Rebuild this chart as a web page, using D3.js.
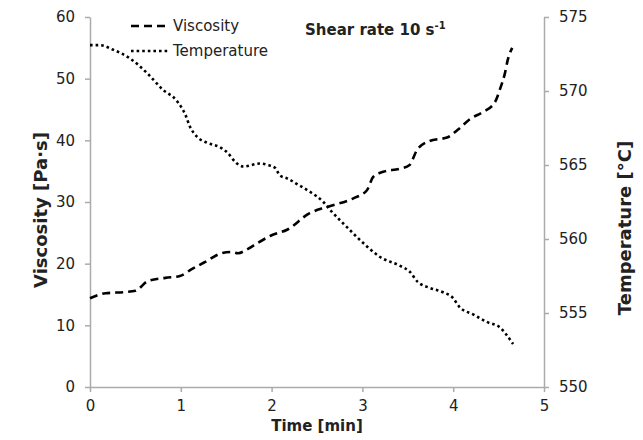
<!DOCTYPE html>
<html>
<head>
<meta charset="utf-8">
<script src="https://cdn.jsdelivr.net/npm/d3@7"></script>
<style>
  html, body { margin: 0; padding: 0; background: #fff; }
  svg { display: block; font-family: "DejaVu Sans", Verdana, sans-serif; }
</style>
</head>
<body>
<svg id="chart" width="643" height="440"></svg>
<script>
// Time axis [min]
const timeTicks = [0, 1, 2, 3, 4, 5];
const viscTicks = [0, 10, 20, 30, 40, 50, 60];
const tempTicks = [550, 555, 560, 565, 570, 575];

// Viscosity measurement [Pa·s]
const viscTime = [0, 0.17, 0.39, 0.50, 0.64, 0.83, 0.99, 1.12, 1.27, 1.45, 1.56, 1.63, 1.74, 1.85, 2.00, 2.17, 2.42, 2.61, 2.90, 3.05, 3.12, 3.23, 3.41, 3.52, 3.60, 3.74, 3.94, 4.05, 4.19, 4.33, 4.46, 4.52, 4.57, 4.60, 4.65];
const viscosity = [14.4, 15.2, 15.4, 15.6, 17.2, 17.7, 18.0, 19.1, 20.3, 21.7, 21.9, 21.7, 22.4, 23.4, 24.6, 25.5, 28.2, 29.2, 30.6, 31.9, 34.1, 34.9, 35.4, 36.0, 38.4, 39.9, 40.5, 41.7, 43.5, 44.6, 46.2, 48.5, 50.9, 53.0, 55.0];

// Melt temperature [°C]
const tempTime = [0, 0.11, 0.25, 0.44, 0.63, 0.80, 0.96, 1.05, 1.10, 1.18, 1.29, 1.43, 1.52, 1.60, 1.69, 1.87, 1.96, 2.04, 2.09, 2.17, 2.31, 2.42, 2.57, 2.64, 2.83, 3.05, 3.19, 3.41, 3.52, 3.61, 3.74, 3.89, 4.00, 4.07, 4.22, 4.37, 4.52, 4.59, 4.66];
const temperature = [573.1, 573.1, 572.8, 572.2, 571.2, 570.1, 569.3, 568.4, 567.6, 566.9, 566.5, 566.2, 565.8, 565.2, 564.9, 565.1, 565.0, 564.8, 564.3, 564.1, 563.6, 563.2, 562.5, 562.0, 560.8, 559.5, 558.8, 558.2, 557.8, 557.1, 556.7, 556.4, 556.0, 555.4, 554.9, 554.4, 554.0, 553.5, 552.9];

const svg = d3.select("#chart");
const plot = { left: 90, right: 544, top: 17, bottom: 387 };
const axisColor = "#ababab";
const textColor = "#222";

const x = d3.scaleLinear().domain([0, 5]).range([plot.left, plot.right]);
const yV = d3.scaleLinear().domain([0, 60]).range([plot.bottom, plot.top]);
const yT = d3.scaleLinear().domain([550, 575]).range([plot.bottom, plot.top]);

function styleAxis(g) {
  g.select(".domain").attr("stroke", axisColor).attr("stroke-width", 1.5);
  g.selectAll(".tick line").attr("stroke", axisColor).attr("stroke-width", 1.5);
  g.selectAll(".tick text").attr("fill", textColor).style("font-size", "15px").style("font-family", "DejaVu Sans, Verdana, sans-serif");
}

svg.append("g")
  .attr("transform", `translate(0,${plot.bottom})`)
  .call(d3.axisBottom(x).tickValues(timeTicks).tickFormat(d3.format("d")).tickSize(5).tickPadding(8).tickSizeOuter(0))
  .call(styleAxis);

svg.append("g")
  .attr("transform", `translate(${plot.left},0)`)
  .call(d3.axisLeft(yV).tickValues(viscTicks).tickFormat(d3.format("d")).tickSize(5).tickPadding(10).tickSizeOuter(0))
  .call(styleAxis);

svg.append("g")
  .attr("transform", `translate(${plot.right},0)`)
  .call(d3.axisRight(yT).tickValues(tempTicks).tickFormat(d3.format("d")).tickSize(5).tickPadding(10).tickSizeOuter(0))
  .call(styleAxis);

// Axis titles
svg.append("text")
  .attr("x", x(2.5)).attr("y", 431)
  .attr("text-anchor", "middle")
  .attr("fill", textColor)
  .style("font-size", "15px").style("font-weight", "bold")
  .text("Time [min]");

svg.append("text")
  .attr("transform", "translate(47,210) rotate(-90)")
  .attr("text-anchor", "middle")
  .attr("fill", textColor)
  .style("font-size", "18px").style("font-weight", "bold")
  .text("Viscosity [Pa·s]");

svg.append("text")
  .attr("transform", "translate(631,228) rotate(-90)")
  .attr("text-anchor", "middle")
  .attr("fill", textColor)
  .style("font-size", "18px").style("font-weight", "bold")
  .text("Temperature [°C]");

// Series
const viscLine = d3.line()
  .x((d, i) => x(viscTime[i]))
  .y(d => yV(d))
  .curve(d3.curveMonotoneX);

const tempLine = d3.line()
  .x((d, i) => x(tempTime[i]))
  .y(d => yT(d))
  .curve(d3.curveMonotoneX);

svg.append("path")
  .datum(viscosity)
  .attr("d", viscLine)
  .attr("fill", "none")
  .attr("stroke", "#000")
  .attr("stroke-width", 2.6)
  .attr("stroke-dasharray", "8,5");

svg.append("path")
  .datum(temperature)
  .attr("d", tempLine)
  .attr("fill", "none")
  .attr("stroke", "#000")
  .attr("stroke-width", 2.6)
  .attr("stroke-dasharray", "2.6,3");

// Legend
const legend = svg.append("g");
const legendItems = [
  { label: "Viscosity", dash: "8,5", y: 26 },
  { label: "Temperature", dash: "2.6,3", y: 51 }
];
legendItems.forEach(item => {
  legend.append("line")
    .attr("x1", 131).attr("x2", 169)
    .attr("y1", item.y).attr("y2", item.y)
    .attr("stroke", "#000").attr("stroke-width", 2.6)
    .attr("stroke-dasharray", item.dash);
  legend.append("text")
    .attr("x", 173).attr("y", item.y + 5)
    .attr("fill", textColor)
    .style("font-size", "15px")
    .text(item.label);
});

// Title
const title = svg.append("text")
  .attr("x", 305).attr("y", 35)
  .attr("fill", textColor)
  .style("font-size", "15px").style("font-weight", "bold");
title.append("tspan").text("Shear rate 10 s");
title.append("tspan").attr("dy", -6).style("font-size", "10px").text("-1");
</script>
</body>
</html>
